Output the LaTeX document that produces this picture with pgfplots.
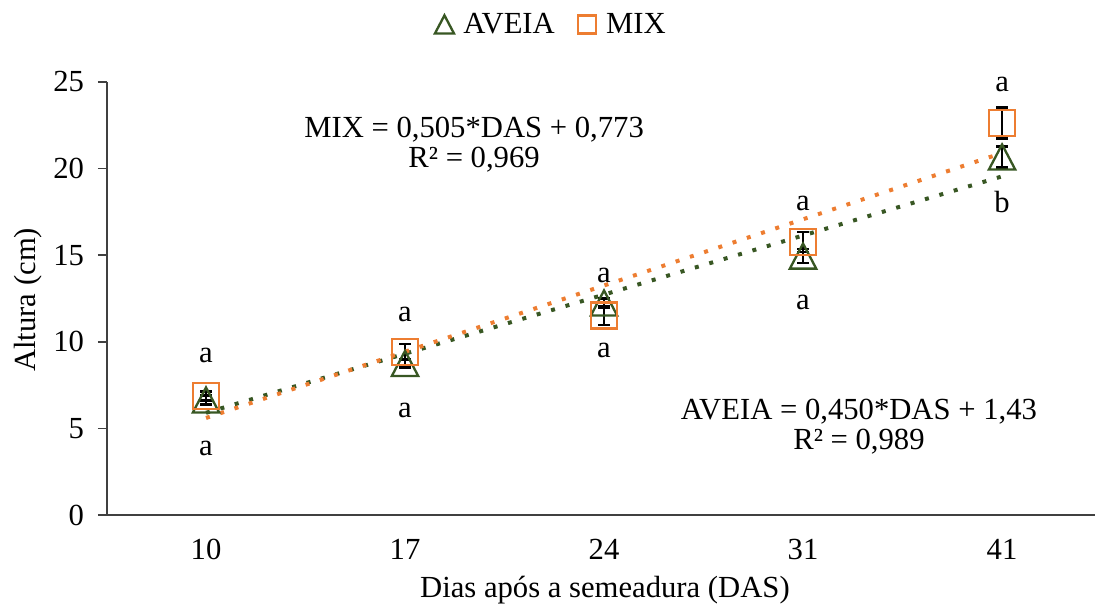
\documentclass[border=0pt]{standalone}
\usepackage{fontspec}
\setmainfont{Liberation Serif}
\usepackage{pgfplots}
\usepackage{pgfplotstable}
\pgfplotsset{compat=1.18}
\definecolor{aveia}{RGB}{56,87,35}
\definecolor{mix}{RGB}{237,125,49}
\pgfdeclareplotmark{tribox}{%
  \pgfpathmoveto{\pgfqpoint{0pt}{\pgfplotmarksize}}%
  \pgfpathlineto{\pgfqpoint{1.05\pgfplotmarksize}{-\pgfplotmarksize}}%
  \pgfpathlineto{\pgfqpoint{-1.05\pgfplotmarksize}{-\pgfplotmarksize}}%
  \pgfpathclose
  \pgfusepathqstroke}
\pgfplotstableread{
x y e
0 6.64 0.25
1 8.75 0.25
2 12.24 0.25
3 14.95 0.40
4 20.67 0.60
}\aveia
\pgfplotstableread{
x y e
0 6.87 0.25
1 9.41 0.46
2 11.52 0.55
3 15.76 0.58
4 22.63 0.90
}\mix
\newcommand{\fs}{\fontsize{23}{27}\selectfont}
\begin{document}
\begin{tikzpicture}
\begin{axis}[
  scale only axis, width=741pt, height=324.75pt,
  xmin=-0.4975, xmax=4.467, ymin=0, ymax=25,
  clip=false,
  axis x line*=bottom, axis y line*=left,
  axis line style={draw=black!75, line width=1.1pt},
  xtick={0,1,2,3,4}, xticklabels={10,17,24,31,41},
  x tick style={draw=none},
  ytick={0,5,...,25},
  y tick style={draw=black!75, line width=1.1pt},
  tick align=outside, major tick length=6.75pt,
  /pgf/number format/assume math mode=true,
  tick label style={font=\fs},
  xticklabel style={yshift=-8pt},
  yticklabel style={xshift=-7pt},
  label style={font=\fs},
  xlabel={Dias após a semeadura (DAS)},
  xlabel style={at={(axis description cs:0.504,-0.1894)}, anchor=base},
  ylabel={Altura (cm)},
  ylabel style={at={(axis description cs:-0.08,0.497)}, anchor=center},
  legend style={draw=none, font=\fs, at={(axis description cs:0.45,1.133)}, anchor=center,
    legend columns=2, /tikz/every even column/.append style={column sep=15pt}},
  legend image code/.code={\draw[#1, mark size=6.8pt] plot coordinates {(7pt,0pt)}; \path (0pt,0pt) (19pt,0pt);},
]
\addplot[only marks, mark=tribox, mark size=9.4pt, mark options={draw=aveia, line width=1.75pt},
  error bars/.cd, y dir=both, y explicit,
  error bar style={line width=1.1pt, black},
  error mark options={rotate=90, mark size=4.5pt, line width=2pt, black}]
  table[x=x, y=y, y error=e] {\aveia};
\addlegendentry{AVEIA}
\addplot[only marks, mark=square, mark size=9.75pt, mark options={draw=mix, line width=1.75pt},
  error bars/.cd, y dir=both, y explicit,
  error bar style={line width=1.1pt, black},
  error mark options={rotate=90, mark size=4.5pt, line width=2pt, black}]
  table[x=x, y=y, y error=e] {\mix};
\addlegendentry{MIX}
\addplot[forget plot, no marks, draw=aveia, line width=3pt, dash pattern=on 3pt off 8.25pt] coordinates {(0,5.9) (4,19.55)};
\addplot[forget plot, no marks, draw=mix, line width=3pt, dash pattern=on 3pt off 8.25pt] coordinates {(0,5.6) (4,20.9)};
% letters
\node[font=\fs] at (axis cs:0,9.21) {a};
\node[font=\fs] at (axis cs:0,3.87) {a};
\node[font=\fs] at (axis cs:1,11.6) {a};
\node[font=\fs] at (axis cs:1,6.03) {a};
\node[font=\fs] at (axis cs:2,13.83) {a};
\node[font=\fs] at (axis cs:2,9.5) {a};
\node[font=\fs] at (axis cs:3,17.98) {a};
\node[font=\fs] at (axis cs:3,12.3) {a};
\node[font=\fs] at (axis cs:4,24.86) {a};
\node[font=\fs] at (axis cs:4,18.05) {b};
% equations
\node[font=\fs, anchor=base] at (axis cs:1.347,21.82) {MIX = 0,505*DAS + 0,773};
\node[font=\fs, anchor=base] at (axis cs:1.347,20.09) {R² = 0,969};
\node[font=\fs, anchor=base] at (axis cs:3.281,5.485) {AVEIA = 0,450*DAS + 1,43};
\node[font=\fs, anchor=base] at (axis cs:3.281,3.753) {R² = 0,989};
\coordinate (bbsw) at (rel axis cs:0,0);
\coordinate (bbne) at (rel axis cs:1,1);
\end{axis}
\pgfresetboundingbox
\path ([xshift=-80.25pt,yshift=-71.25pt]bbsw) rectangle ([xshift=1.5pt,yshift=61.5pt]bbne);
\end{tikzpicture}
\end{document}
